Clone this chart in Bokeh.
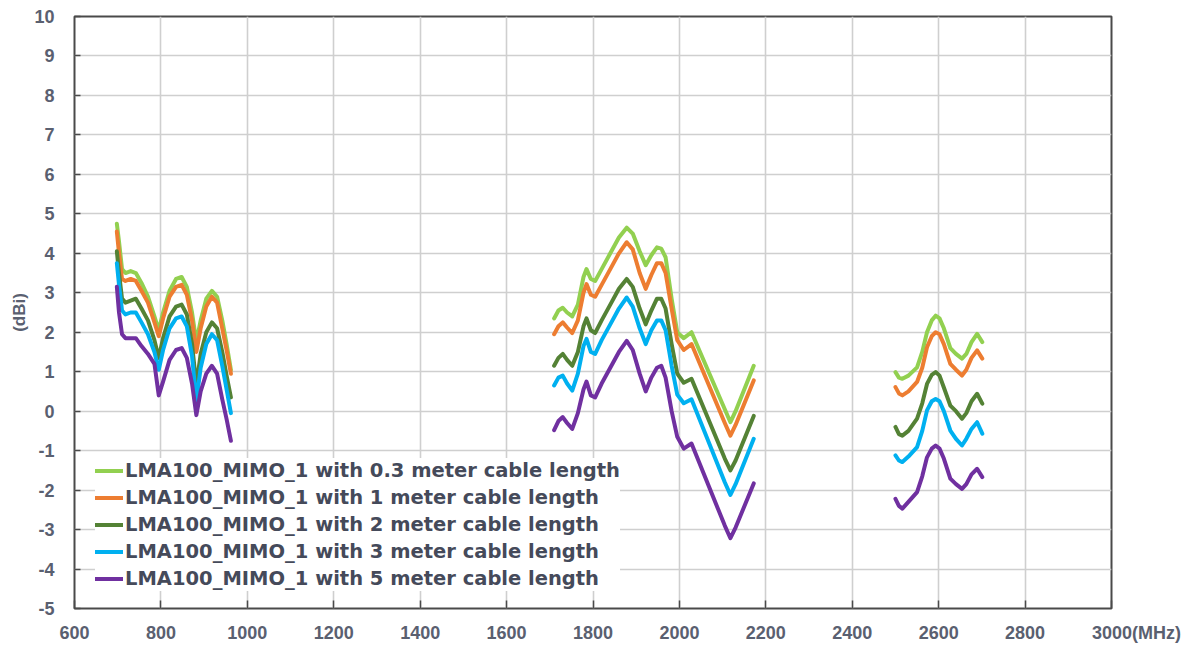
from bokeh.plotting import figure
from bokeh.models import Legend, LegendItem, FixedTicker, Range1d
from bokeh.embed import file_html
from bokeh.resources import INLINE

# ---------------- data ----------------
freq_low = [698, 703, 710, 718, 730, 742, 755, 770, 785, 795, 805, 820, 835, 848, 860, 872, 882, 892, 905, 918, 930, 942, 952, 962]
freq_mid = [1710, 1720, 1730, 1740, 1752, 1765, 1778, 1785, 1795, 1805, 1820, 1840, 1860, 1878, 1892, 1908, 1922, 1935,
            1948, 1958, 1968, 1982, 1995, 2010, 2028, 2105, 2118, 2130, 2172]
freq_high = [2500, 2508, 2516, 2530, 2550, 2562, 2573, 2584, 2593, 2602, 2612, 2627, 2640, 2654, 2664, 2676, 2689, 2701]

c03_low = [4.75, 4.3, 3.6, 3.5, 3.55, 3.5, 3.25, 2.9, 2.4, 2.05, 2.5, 3.05, 3.35, 3.4, 3.15, 2.5, 1.75, 2.3, 2.85, 3.05, 2.9, 2.3, 1.7, 1.05]
c1_low = [4.55, 4.0, 3.35, 3.3, 3.35, 3.3, 3.05, 2.75, 2.25, 1.9, 2.35, 2.9, 3.15, 3.2, 2.95, 2.3, 1.5, 2.1, 2.65, 2.9, 2.75, 2.1, 1.55, 0.95]
c2_low = [4.05, 3.5, 2.85, 2.75, 2.8, 2.85, 2.6, 2.3, 1.8, 1.35, 1.85, 2.4, 2.65, 2.7, 2.45, 1.7, 0.65, 1.45, 2.0, 2.25, 2.1, 1.5, 0.9, 0.35]
c3_low = [3.75, 3.2, 2.55, 2.45, 2.5, 2.5, 2.25, 1.95, 1.5, 1.05, 1.55, 2.1, 2.35, 2.4, 2.15, 1.4, 0.25, 1.1, 1.7, 1.95, 1.8, 1.15, 0.55, -0.05]
c5_low = [3.15, 2.5, 1.95, 1.85, 1.85, 1.85, 1.65, 1.45, 1.2, 0.4, 0.75, 1.3, 1.55, 1.6, 1.35, 0.7, -0.1, 0.5, 0.95, 1.15, 0.95, 0.3, -0.2, -0.75]

c03_mid = [2.35, 2.55, 2.62, 2.5, 2.4, 2.7, 3.4, 3.6, 3.35, 3.3, 3.6, 4.0, 4.4, 4.65, 4.5, 4.05, 3.7, 3.95, 4.15, 4.12, 3.9,
           2.85, 2.0, 1.85, 2.0, 0.05, -0.28, 0.0, 1.15]
c1_mid = [1.95, 2.15, 2.25, 2.12, 1.98, 2.3, 3.0, 3.22, 2.95, 2.9, 3.2, 3.6, 4.0, 4.28, 4.1, 3.5, 3.1, 3.45, 3.75, 3.75, 3.5,
          2.6, 1.8, 1.55, 1.7, -0.3, -0.62, -0.35, 0.78]
c2_mid = [1.15, 1.35, 1.45, 1.3, 1.15, 1.5, 2.15, 2.35, 2.05, 1.98, 2.3, 2.7, 3.1, 3.35, 3.15, 2.6, 2.2, 2.55, 2.85, 2.85, 2.6,
          1.7, 0.95, 0.72, 0.82, -1.2, -1.5, -1.25, -0.12]
c3_mid = [0.65, 0.85, 0.9, 0.7, 0.52, 0.95, 1.65, 1.83, 1.5, 1.45, 1.8, 2.2, 2.6, 2.88, 2.65, 2.1, 1.7, 2.05, 2.3, 2.3, 2.05,
          1.15, 0.42, 0.2, 0.3, -1.8, -2.12, -1.85, -0.7]
c5_mid = [-0.48, -0.25, -0.15, -0.3, -0.45, -0.05, 0.55, 0.75, 0.4, 0.35, 0.7, 1.1, 1.5, 1.78, 1.55, 0.95, 0.5, 0.85, 1.1, 1.15, 0.85,
          0.0, -0.65, -0.95, -0.82, -2.9, -3.22, -2.95, -1.83]

c03_high = [0.99, 0.85, 0.82, 0.9, 1.11, 1.5, 2.0, 2.3, 2.42, 2.35, 2.1, 1.6, 1.45, 1.33, 1.45, 1.75, 1.96, 1.75]
c1_high = [0.61, 0.45, 0.40, 0.5, 0.74, 1.1, 1.62, 1.9, 2.0, 1.95, 1.7, 1.2, 1.05, 0.9, 1.05, 1.35, 1.54, 1.33]
c2_high = [-0.40, -0.58, -0.62, -0.5, -0.19, 0.2, 0.69, 0.92, 0.99, 0.9, 0.6, 0.14, 0.0, -0.19, -0.05, 0.25, 0.44, 0.19]
c3_high = [-1.12, -1.25, -1.29, -1.15, -0.91, -0.5, 0.02, 0.25, 0.31, 0.25, 0.0, -0.49, -0.7, -0.87, -0.7, -0.45, -0.28, -0.57]
c5_high = [-2.22, -2.4, -2.47, -2.3, -2.05, -1.65, -1.17, -0.95, -0.87, -0.95, -1.2, -1.71, -1.85, -1.97, -1.85, -1.6, -1.46, -1.67]

series_labels = [
    "LMA100_MIMO_1 with 0.3 meter cable length",
    "LMA100_MIMO_1 with 1 meter cable length",
    "LMA100_MIMO_1 with 2 meter cable length",
    "LMA100_MIMO_1 with 3 meter cable length",
    "LMA100_MIMO_1 with 5 meter cable length",
]
series_colors = ["#92d050", "#ed7d31", "#548235", "#00b0f0", "#7030a0"]

x_ticks = [600, 800, 1000, 1200, 1400, 1600, 1800, 2000, 2200, 2400, 2600, 2800, 3000]
y_ticks = list(range(-5, 11))
x_unit = "(MHz)"
y_label = "(dBi)"

TXT = "#5a6070"

# ---------------- figure ----------------
p = figure(width=1191, height=645, output_backend="svg", toolbar_location=None,
           x_range=Range1d(600, 3000), y_range=Range1d(-5, 10),
           min_border_left=74, min_border_right=80, min_border_top=16, min_border_bottom=37)
p.background_fill_color = "white"
p.border_fill_color = "white"
p.outline_line_color = "#4a4a4a"
p.outline_line_width = 2

p.xgrid.ticker = FixedTicker(ticks=x_ticks)
p.ygrid.ticker = FixedTicker(ticks=y_ticks)
p.grid.grid_line_color = "#cfcfcf"
p.grid.grid_line_width = 1.6

p.xaxis.ticker = FixedTicker(ticks=x_ticks)
p.yaxis.ticker = FixedTicker(ticks=y_ticks)
p.axis.axis_line_color = None
p.axis.minor_tick_line_color = None
p.axis.major_tick_line_color = "#4a4a4a"
p.axis.major_tick_line_width = 1.5
p.xaxis.major_tick_in = 8
p.xaxis.major_tick_out = 0
p.yaxis.major_tick_in = 6
p.yaxis.major_tick_out = 0

# last x tick label carries the unit; the leading no-break spaces keep "3000" centred on its tick
p.xaxis.major_label_overrides = {x_ticks[-1]: "\u00a0" * 10 + str(x_ticks[-1]) + x_unit}
p.xaxis.major_label_text_font = "Liberation Sans"
p.xaxis.major_label_text_font_size = "18px"
p.xaxis.major_label_text_font_style = "bold"
p.xaxis.major_label_text_color = TXT
p.xaxis.major_label_standoff = 14

# plain ASCII hyphen for negative tick labels, as in the original
p.yaxis.major_label_overrides = {t: str(t) for t in y_ticks}
p.yaxis.major_label_text_font = "Liberation Sans"
p.yaxis.major_label_text_font_size = "18px"
p.yaxis.major_label_text_font_style = "bold"
p.yaxis.major_label_text_color = TXT
p.yaxis.major_label_standoff = 20
p.yaxis.axis_label = y_label
p.yaxis.axis_label_text_font = "Liberation Sans"
p.yaxis.axis_label_text_font_size = "17px"
p.yaxis.axis_label_text_font_style = "bold"
p.yaxis.axis_label_text_color = TXT
p.yaxis.axis_label_standoff = 2

nan = float("nan")
lows = [c03_low, c1_low, c2_low, c3_low, c5_low]
mids = [c03_mid, c1_mid, c2_mid, c3_mid, c5_mid]
highs = [c03_high, c1_high, c2_high, c3_high, c5_high]
xs = freq_low + [nan] + freq_mid + [nan] + freq_high

items = []
for lab, col, lo, mi, hi in zip(series_labels, series_colors, lows, mids, highs):
    ys = lo + [nan] + mi + [nan] + hi
    r = p.line(xs, ys, line_color=col, line_width=4, line_join="round", line_cap="round")
    items.append(LegendItem(label=lab, renderers=[r]))

legend = Legend(items=items, location=(21, 17))
legend.label_text_font = "DejaVu Sans"
legend.label_text_font_size = "19.5px"
legend.label_text_font_style = "bold"
legend.label_text_color = "#454a5a"
legend.glyph_width = 28
legend.glyph_height = 25
legend.label_height = 25
legend.spacing = 2
legend.label_standoff = 2
legend.padding = 2
legend.margin = 0
legend.border_line_color = None
legend.background_fill_color = "white"
legend.background_fill_alpha = 1.0
p.add_layout(legend, "center")

open("out.html", "w").write(file_html(p, INLINE))
